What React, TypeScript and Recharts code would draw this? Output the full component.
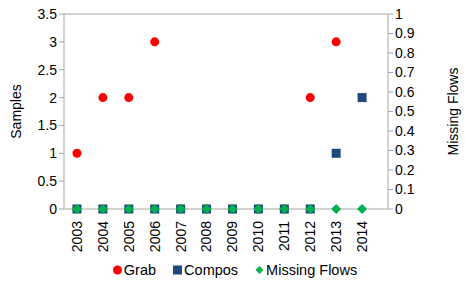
import React from "react";
import {
  ComposedChart,
  Line,
  XAxis,
  YAxis,
  Legend,
  ReferenceLine,
} from "recharts";

// chart values
const years = [2003, 2004, 2005, 2006, 2007, 2008, 2009, 2010, 2011, 2012, 2013, 2014];
const grab = [1, 2, 2, 3, 0, 0, 0, 0, 0, 2, 3, null];
const compos = [0, 0, 0, 0, 0, 0, 0, 0, 0, 0, 1, 2];
const missingFlows = [0, 0, 0, 0, 0, 0, 0, 0, 0, 0, 0, 0];

const sampleTicks = [0, 0.5, 1, 1.5, 2, 2.5, 3, 3.5];
const missingTicks = [0, 0.1, 0.2, 0.3, 0.4, 0.5, 0.6, 0.7, 0.8, 0.9, 1];
const boundaryTicks = [
  2002.5, 2003.5, 2004.5, 2005.5, 2006.5, 2007.5, 2008.5, 2009.5, 2010.5,
  2011.5, 2012.5, 2013.5, 2014.5,
];

const data = years.map((year, i) => ({
  year,
  grab: grab[i],
  compos: compos[i],
  missing: missingFlows[i],
}));

const AXIS = "#a6a6a6";
const RED = "#ff0000";
const NAVY = "#1f497d";
const GREEN = "#00b050";
const FONT = "'Liberation Sans', Arial, sans-serif";

const circleDot = (p: any) => {
  if (p.cy == null || p.value == null) return <g key={p.index} />;
  return <circle key={p.index} cx={p.cx} cy={p.cy} r={4.5} fill={RED} />;
};

const squareDot = (p: any) => {
  if (p.cy == null || p.value == null) return <g key={p.index} />;
  return (
    <rect key={p.index} x={p.cx - 4.5} y={p.cy - 4.5} width={9} height={9} fill={NAVY} />
  );
};

const diamondDot = (p: any) => {
  if (p.cy == null || p.value == null) return <g key={p.index} />;
  const { cx, cy } = p;
  return (
    <polygon
      key={p.index}
      points={`${cx},${cy - 5} ${cx + 5},${cy} ${cx},${cy + 5} ${cx - 5},${cy}`}
      fill={GREEN}
    />
  );
};

const YearTick = (props: any) => {
  const { x, y, payload } = props;
  return (
    <text
      x={x}
      y={y}
      transform={`rotate(-90 ${x} ${y})`}
      textAnchor="end"
      dy="0.35em"
      fontSize={14}
      fontFamily={FONT}
      fill="#000"
    >
      {payload.value}
    </text>
  );
};

const LegendContent = () => {
  const item = (icon: React.ReactNode, label: string, last = false) => (
    <span
      style={{
        display: "inline-flex",
        alignItems: "center",
        marginRight: last ? 0 : 17,
      }}
    >
      <svg width={9} height={10} style={{ marginRight: 2 }}>
        {icon}
      </svg>
      {label}
    </span>
  );
  return (
    <div
      style={{
        height: 24,
        lineHeight: "24px",
        display: "flex",
        justifyContent: "center",
        alignItems: "center",
        paddingLeft: 5,
        fontFamily: FONT,
        fontSize: 14.5,
        color: "#000",
      }}
    >
      {item(<circle cx={4.5} cy={5} r={4.5} fill={RED} />, "Grab")}
      {item(<rect x={0} y={0.5} width={9} height={9} fill={NAVY} />, "Compos")}
      {item(<polygon points="4.5,1 8.5,5 4.5,9 0.5,5" fill={GREEN} />, "Missing Flows", true)}
    </div>
  );
};

export default function App() {
  return (
    <div style={{ position: "absolute", left: 0, top: 0, background: "#fff" }}>
      <ComposedChart
        width={465}
        height={282}
        data={data}
        margin={{ top: 14, right: 0, bottom: 0, left: 0 }}
      >
        <XAxis
          xAxisId="grid"
          dataKey="year"
          type="number"
          domain={[2002.5, 2014.5]}
          ticks={boundaryTicks}
          tick={false}
          axisLine={false}
          tickLine={{ stroke: AXIS }}
          tickSize={5}
          height={0}
        />
        <XAxis
          xAxisId="main"
          dataKey="year"
          type="number"
          domain={[2002.5, 2014.5]}
          ticks={years}
          tick={<YearTick />}
          tickLine={false}
          axisLine={{ stroke: AXIS }}
          tickMargin={6}
          height={49}
          interval={0}
          allowDecimals={false}
        />
        <YAxis
          yAxisId="left"
          domain={[0, 3.5]}
          ticks={sampleTicks}
          width={64}
          axisLine={{ stroke: AXIS }}
          tickLine={{ stroke: AXIS }}
          tickSize={5}
          tick={{ fontSize: 14, fontFamily: FONT, fill: "#000" }}
          interval={0}
          label={{
            value: "Samples",
            angle: -90,
            position: "insideLeft",
            offset: 16,
            style: { fontSize: 14, fontFamily: FONT, fill: "#000", textAnchor: "middle" },
          }}
        />
        <YAxis
          yAxisId="right"
          orientation="right"
          domain={[0, 1]}
          ticks={missingTicks}
          width={77}
          axisLine={{ stroke: AXIS }}
          tickLine={{ stroke: AXIS }}
          tickSize={5}
          tick={{ fontSize: 14, fontFamily: FONT, fill: "#000" }}
          interval={0}
          label={{
            value: "Missing Flows",
            angle: -90,
            position: "insideRight",
            offset: 12,
            style: { fontSize: 14, fontFamily: FONT, fill: "#000", textAnchor: "middle" },
          }}
        />
        <ReferenceLine
          yAxisId="left"
          xAxisId="main"
          y={3.5}
          stroke={AXIS}
          ifOverflow="extendDomain"
        />
        <Line
          xAxisId="main"
          yAxisId="left"
          dataKey="grab"
          stroke="none"
          dot={circleDot}
          activeDot={false}
          isAnimationActive={false}
        />
        <Line
          xAxisId="main"
          yAxisId="left"
          dataKey="compos"
          stroke="none"
          dot={squareDot}
          activeDot={false}
          isAnimationActive={false}
        />
        <Line
          xAxisId="main"
          yAxisId="right"
          dataKey="missing"
          stroke="none"
          dot={diamondDot}
          activeDot={false}
          isAnimationActive={false}
        />
        <Legend verticalAlign="bottom" content={<LegendContent />} />
      </ComposedChart>
    </div>
  );
}
